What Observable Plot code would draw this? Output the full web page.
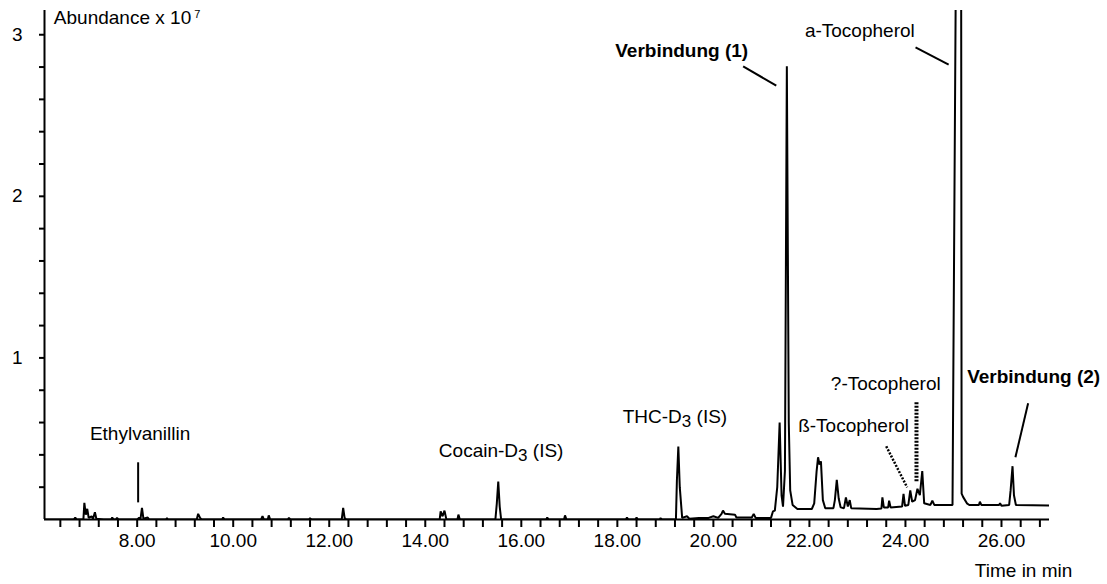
<!DOCTYPE html>
<html>
<head>
<meta charset="utf-8">
<script src="https://cdn.jsdelivr.net/npm/d3@7"></script>
<script src="https://cdn.jsdelivr.net/npm/@observablehq/plot@0.6"></script>
<style>
  html, body { margin: 0; padding: 0; background: #fff; }
  #chart { width: 1107px; height: 584px; }
  svg { font-family: "Liberation Sans", Arial, sans-serif; }
</style>
</head>
<body>
<div id="chart"></div>
<script>
// Retention time (min) of each sampled point of the chromatogram
const time = [
  6.07, 6.68, 6.71, 6.74, 6.88, 6.90, 6.93, 6.96, 6.99, 7.05, 7.08, 7.12, 7.15, 7.30,
  7.46, 7.48, 7.51, 7.56, 7.58, 7.61, 8.00, 8.04, 8.07, 8.10, 8.13, 8.22, 8.25,
  8.60, 8.62, 8.64, 9.24, 9.27, 9.31, 9.34, 9.77, 9.79, 9.82,
  10.58, 10.61, 10.64, 10.72, 10.74, 10.77, 11.14, 11.16, 11.19, 11.58, 11.60, 11.63,
  12.26, 12.29, 12.32, 12.35, 14.30, 14.32, 14.36, 14.40, 14.44, 14.67, 14.69, 14.72,
  15.46, 15.49, 15.52, 15.55, 15.58, 16.52, 16.54, 16.57, 16.89, 16.91, 16.94,
  18.18, 18.20, 18.23, 18.38, 18.40, 18.43, 18.88, 18.90, 18.93,
  19.22, 19.24, 19.27, 19.30, 19.35, 19.45, 19.50, 19.70, 19.90, 20.00, 20.10,
  20.17, 20.20, 20.24, 20.45, 20.48, 20.80, 20.84, 20.88, 21.20, 21.24, 21.28,
  21.33, 21.38, 21.42, 21.45, 21.49, 21.53, 21.57, 21.60, 21.65, 21.75,
  22.05, 22.10, 22.15, 22.18, 22.21, 22.24, 22.28, 22.33,
  22.50, 22.53, 22.57, 22.61, 22.65, 22.72, 22.76, 22.80, 22.84, 22.87,
  23.40, 23.50, 23.52, 23.55, 23.64, 23.66, 23.69, 23.93, 23.96, 23.99,
  24.06, 24.10, 24.14, 24.20, 24.25, 24.30, 24.35, 24.39, 24.52, 24.56, 24.60,
  24.98, 25.05, 25.16, 25.17, 25.20, 25.28, 25.33, 25.53, 25.55, 25.58,
  25.95, 25.97, 26.00, 26.16, 26.19, 26.23, 26.26, 26.30, 27.00
];
// Abundance (x 10^7) at each of those times
const abundance = [
  0, 0, 0.012, 0, 0, 0.103, 0.03, 0.066, 0.01, 0.02, 0.005, 0.045, 0.005, 0,
  0, 0.012, 0, 0, 0.01, 0, 0, 0.01, 0.005, 0.072, 0.005, 0.012, 0,
  0, 0.008, 0, 0, 0.035, 0.01, 0, 0, 0.012, 0,
  0, 0.02, 0, 0, 0.025, 0, 0, 0.01, 0, 0, 0.008, 0,
  0, 0.072, 0.01, 0, 0, 0.05, 0.02, 0.055, 0, 0, 0.03, 0,
  0, 0.1, 0.235, 0.08, 0, 0, 0.012, 0, 0, 0.025, 0,
  0, 0.012, 0, 0, 0.012, 0, 0, 0.008, 0,
  0, 0.24, 0.451, 0.2, 0.01, 0.02, 0.005, 0.01, 0.01, 0.02, 0.01,
  0.035, 0.055, 0.035, 0.03, 0.012, 0.012, 0.035, 0.01, 0.01, 0.05, 0.055,
  0.2, 0.60, 0.15, 0.08, 0.3, 2.805, 0.6, 0.18, 0.09, 0.065,
  0.065, 0.1, 0.3, 0.385, 0.34, 0.36, 0.12, 0.07,
  0.07, 0.12, 0.245, 0.13, 0.075, 0.07, 0.137, 0.08, 0.12, 0.07,
  0.065, 0.068, 0.137, 0.075, 0.075, 0.117, 0.075, 0.08, 0.158, 0.085,
  0.09, 0.18, 0.11, 0.12, 0.19, 0.15, 0.30, 0.10, 0.09, 0.117, 0.09,
  0.09, 3.4, 3.4, 0.16, 0.14, 0.1, 0.09, 0.09, 0.11, 0.09,
  0.09, 0.1, 0.085, 0.09, 0.18, 0.33, 0.15, 0.09, 0.086
];

// Axis settings
const xDomain = [6.07, 27.0];
const yDomain = [0, 3.15];
const xLabelTicks = [8, 10, 12, 14, 16, 18, 20, 22, 24, 26];
const yLabelTicks = [1, 2, 3];
const xMinorStep = 0.4;
const yMinorStep = 0.2;

// Peak annotations (text, time, abundance)
const labelText = ["Abundance x 10^7", "Ethylvanillin", "Cocain-D_3 (IS)", "THC-D_3 (IS)", "a-Tocopherol", "?-Tocopherol", "ß-Tocopherol"];
const labelTime = [6.265, 8.06, 15.58, 19.20, 23.05, 23.59, 22.92];
const labelAbund = [3.105, 0.53, 0.426, 0.635, 3.023, 0.839, 0.578];
const labelAnchor = ["start", "middle", "middle", "middle", "middle", "middle", "middle"];

const boldText = ["Verbindung (1)", "Verbindung (2)"];
const boldTime = [19.34, 26.67];
const boldAbund = [2.897, 0.880];

// Leader lines: [t1, v1, t2, v2]
const solidLeaders = [
  [8.02, 0.106, 8.02, 0.354],
  [20.62, 2.804, 21.31, 2.685],
  [24.21, 2.922, 24.90, 2.815],
  [26.555, 0.719, 26.29, 0.385]
];
const gammaLeader = [[24.23, 0.725, 24.23, 0.230]];
const betaLeader = [[23.60, 0.453, 24.035, 0.199]];

const xTitle = "Time in min";

const data = time.map((t, i) => ({t, v: abundance[i]}));
const xTicks = d3.range(Math.ceil(xDomain[0] / xMinorStep), Math.floor(xDomain[1] / xMinorStep) + 1).map(i => +(i * xMinorStep).toFixed(2));
const yTicks = d3.range(1, Math.floor(yDomain[1] / yMinorStep) + 1).map(i => +(i * yMinorStep).toFixed(2));
const labels = labelText.map((s, i) => ({s, t: labelTime[i], v: labelAbund[i], a: labelAnchor[i]}));
const bolds = boldText.map((s, i) => ({s, t: boldTime[i], v: boldAbund[i]}));
const toLink = arr => arr.map(([t1, v1, t2, v2]) => ({t1, v1, t2, v2}));

const chart = Plot.plot({
  width: 1107,
  height: 584,
  marginLeft: 44,
  marginRight: 58,
  marginTop: 10,
  marginBottom: 65,
  style: {fontFamily: "Liberation Sans, Arial, sans-serif", fontSize: "19px", background: "#fff", color: "#000", overflow: "visible"},
  x: {domain: xDomain},
  y: {domain: yDomain},
  marks: [
    Plot.axisX({
      ticks: xTicks, tickSize: 8, tickPadding: 6, strokeWidth: 2, fontSize: 19,
      tickFormat: d => xLabelTicks.some(l => Math.abs(l - d) < 1e-6) ? d.toFixed(2) : "",
      label: null
    }),
    Plot.axisY({
      ticks: yTicks, tickSize: 5, tickPadding: 17, strokeWidth: 2, fontSize: 19,
      tickFormat: d => yLabelTicks.some(l => Math.abs(l - d) < 1e-6) ? String(Math.round(d)) : "",
      label: null
    }),
    Plot.ruleY([yDomain[0]], {stroke: "#000", strokeWidth: 2}),
    Plot.ruleX([xDomain[0]], {stroke: "#000", strokeWidth: 2}),
    Plot.line(data, {x: "t", y: "v", stroke: "#000", strokeWidth: 2, clip: true, strokeLinejoin: "miter"}),
    Plot.link(toLink(solidLeaders), {x1: "t1", y1: "v1", x2: "t2", y2: "v2", stroke: "#000", strokeWidth: 2}),
    Plot.link(toLink(gammaLeader), {x1: "t1", y1: "v1", x2: "t2", y2: "v2", stroke: "#000", strokeWidth: 4, strokeDasharray: "2,1.5"}),
    Plot.link(toLink(betaLeader), {x1: "t1", y1: "v1", x2: "t2", y2: "v2", stroke: "#000", strokeWidth: 2.5, strokeDasharray: "2,1.5"}),
    Plot.text(labels.filter(d => d.a === "start"), {x: "t", y: "v", text: "s", textAnchor: "start", fontSize: 19, fill: "#000"}),
    Plot.text(labels.filter(d => d.a === "middle"), {x: "t", y: "v", text: "s", textAnchor: "middle", fontSize: 19, fill: "#000"}),
    Plot.text(bolds, {x: "t", y: "v", text: "s", textAnchor: "middle", fontSize: 19, fontWeight: "bold", fill: "#000"}),
    Plot.text([xTitle], {x: [26.46], y: [yDomain[0]], text: d => d, dy: 51, textAnchor: "middle", fontSize: 19, fill: "#000"})
  ]
});

// Convert _n (subscript) and ^n (superscript) markers into tspans
d3.select(chart).selectAll("text").each(function() {
  const s = this.textContent;
  if (!/[_^]\d/.test(s)) return;
  const el = d3.select(this);
  el.text(null);
  const parts = s.split(/([_^]\d)/);
  let shift = 0;
  for (const p of parts) {
    if (!p) continue;
    if (p[0] === "_") {
      el.append("tspan").attr("dy", 4).attr("font-size", 17).text(p[1]);
      shift = 4;
    } else if (p[0] === "^") {
      el.append("tspan").attr("dx", 3).attr("dy", -6).attr("font-size", 11).text(p[1]);
      shift = -6;
    } else {
      const ts = el.append("tspan").text(p);
      if (shift) ts.attr("dy", -shift);
      shift = 0;
    }
  }
});

document.getElementById("chart").appendChild(chart);
</script>
</body>
</html>
